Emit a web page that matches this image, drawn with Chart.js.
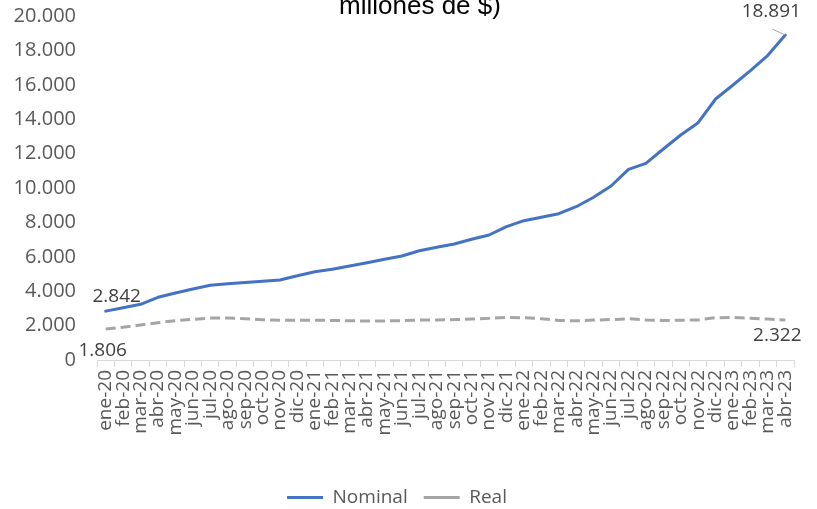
<!DOCTYPE html>
<html>
<head>
<meta charset="utf-8">
<script src="https://cdn.jsdelivr.net/npm/chart.js@4/dist/chart.umd.min.js"></script>
<style>
  html, body { margin: 0; padding: 0; background: #ffffff; }
  #wrap { width: 817px; height: 509px; position: relative; }
</style>
</head>
<body>
<div id="wrap"><canvas id="chart"></canvas></div>
<script>
// Months, January 2020 to April 2023
const months = [
  'ene-20','feb-20','mar-20','abr-20','may-20','jun-20','jul-20','ago-20','sep-20','oct-20','nov-20','dic-20',
  'ene-21','feb-21','mar-21','abr-21','may-21','jun-21','jul-21','ago-21','sep-21','oct-21','nov-21','dic-21',
  'ene-22','feb-22','mar-22','abr-22','may-22','jun-22','jul-22','ago-22','sep-22','oct-22','nov-22','dic-22',
  'ene-23','feb-23','mar-23','abr-23'
];

// Values in millions of pesos
const nominal = [
  2842, 3040, 3237, 3645, 3895, 4128, 4343, 4430, 4505, 4576, 4651, 4901,
  5134, 5273, 5465, 5657, 5855, 6047, 6355, 6552, 6744, 7017, 7267, 7750,
  8099, 8296, 8506, 8913, 9460, 10116, 11087, 11436, 12267, 13081, 13797, 15174,
  15988, 16820, 17715, 18891
];
const real = [
  1806, 1900, 2035, 2170, 2285, 2366, 2442, 2442, 2403, 2345, 2306, 2310,
  2310, 2300, 2280, 2270, 2270, 2290, 2320, 2330, 2350, 2380, 2420, 2470,
  2460, 2400, 2300, 2280, 2320, 2350, 2400, 2330, 2300, 2310, 2330, 2460,
  2470, 2430, 2380, 2322
];

const yTicks = { min: 0, max: 20000, step: 2000 };
const titleTail = 'millones de $)';

const FONT = '"Open Sans", "DejaVu Sans", sans-serif';
const AXIS_GREY = '#595959';
const LABEL_GREY = '#404040';

function fmt(n) {
  return String(Math.round(n)).replace(/\B(?=(\d{3})+(?!\d))/g, '.');
}

// Second line of the heading, sitting at the very top edge
const headingPlugin = {
  id: 'heading',
  afterDraw(chart) {
    const ctx = chart.ctx;
    ctx.save();
    ctx.font = '26px "Liberation Sans", Arial, sans-serif';
    ctx.fillStyle = '#000000';
    ctx.textAlign = 'center';
    ctx.textBaseline = 'alphabetic';
    ctx.fillText(titleTail, 420, 14);
    ctx.restore();
  }
};

// First and last values of each series written next to their points
const endLabelPlugin = {
  id: 'endLabels',
  afterDatasetsDraw(chart) {
    const ctx = chart.ctx;
    ctx.save();
    ctx.font = '19px ' + FONT;
    ctx.fillStyle = LABEL_GREY;
    ctx.textAlign = 'center';
    ctx.textBaseline = 'middle';
    const specs = [
      { ds: 0, idx: 0, dx: 11, dy: -15 },
      { ds: 1, idx: 0, dx: -3, dy: 22 },
      { ds: 0, idx: nominal.length - 1, dx: -14, dy: -23, leader: true },
      { ds: 1, idx: real.length - 1, dx: -8, dy: 16 }
    ];
    specs.forEach(s => {
      const meta = chart.getDatasetMeta(s.ds);
      const pt = meta.data[s.idx];
      const value = chart.data.datasets[s.ds].data[s.idx];
      if (s.leader) {
        ctx.strokeStyle = '#a6a6a6';
        ctx.lineWidth = 1;
        ctx.beginPath();
        ctx.moveTo(pt.x - 13, pt.y - 6);
        ctx.lineTo(pt.x, pt.y);
        ctx.stroke();
      }
      ctx.fillText(fmt(value), pt.x + s.dx, pt.y + s.dy);
    });
    ctx.restore();
  }
};

const BOTTOM_PAD = -8;
const X_AXIS_TOTAL = 509 - BOTTOM_PAD - 360; // room under the plot for labels and legend

new Chart(document.getElementById('chart'), {
  type: 'line',
  data: {
    labels: months,
    datasets: [
      {
        label: 'Nominal',
        data: nominal,
        borderColor: '#4472C4',
        backgroundColor: '#4472C4',
        borderWidth: 3,
        pointRadius: 0,
        tension: 0,
        borderJoinStyle: 'round',
        borderCapStyle: 'round'
      },
      {
        label: 'Real',
        data: real,
        borderColor: '#A5A5A5',
        backgroundColor: '#A5A5A5',
        borderWidth: 3,
        borderDash: [10, 5],
        pointRadius: 0,
        tension: 0,
        borderJoinStyle: 'round'
      }
    ]
  },
  options: {
    responsive: true,
    maintainAspectRatio: false,
    animation: false,
    layout: { padding: { top: 16, right: 23, left: 0, bottom: BOTTOM_PAD } },
    plugins: {
      tooltip: { enabled: false },
      title: { display: false },
      legend: {
        position: 'bottom',
        labels: {
          color: AXIS_GREY,
          font: { family: FONT, size: 19 },
          usePointStyle: true,
          pointStyle: 'line',
          pointStyleWidth: 36,
          boxHeight: 3,
          padding: 16
        }
      }
    },
    scales: {
      x: {
        type: 'category',
        offset: true,
        grid: {
          display: true,
          offset: true,
          drawOnChartArea: false,
          drawTicks: true,
          tickLength: 7,
          color: '#d9d9d9'
        },
        border: { display: true, color: '#d9d9d9', width: 1 },
        ticks: {
          autoSkip: false,
          minRotation: 90,
          maxRotation: 90,
          padding: 3,
          color: AXIS_GREY,
          font: { family: FONT, size: 19 }
        },
        afterFit(scale) {
          const lg = scale.chart.legend;
          const lh = lg && lg.height ? lg.height : 50;
          scale.height = X_AXIS_TOTAL - lh;
        }
      },
      y: {
        min: yTicks.min,
        max: yTicks.max,
        grid: { display: false, drawTicks: true, tickLength: 21 },
        border: { display: false },
        ticks: {
          stepSize: yTicks.step,
          padding: 0,
          color: AXIS_GREY,
          font: { family: FONT, size: 20 },
          callback: v => fmt(v)
        },
        afterFit(scale) { scale.width = 97; }
      }
    }
  },
  plugins: [headingPlugin, endLabelPlugin]
});
</script>
</body>
</html>
